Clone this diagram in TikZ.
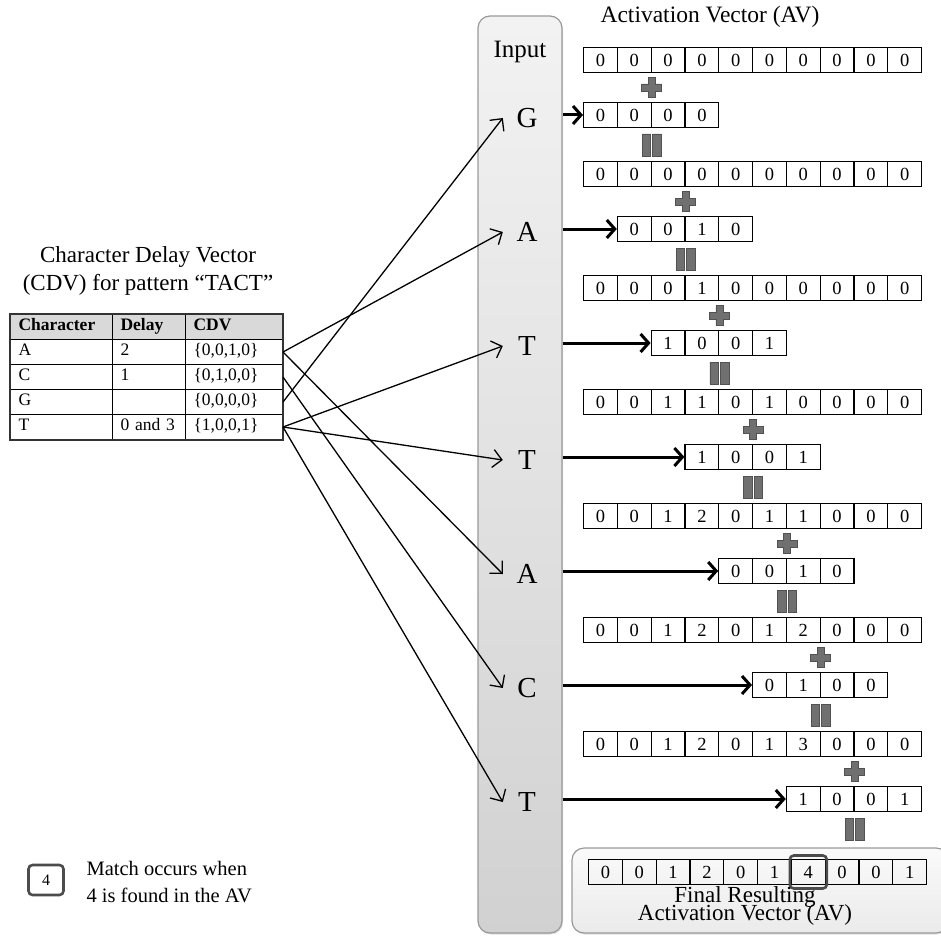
\documentclass[tikz,border=0pt]{standalone}
\usepackage{fontspec}
\setmainfont{Liberation Serif}
\usetikzlibrary{calc,arrows.meta,shadows}
\tikzset{
	cell/.style={draw, line width=1.2pt, anchor=west, minimum height=25pt, inner sep=0pt, font=\fontsize{18.5}{18.5}\selectfont},
	tcell/.style={draw, line width=1pt, anchor=north west, minimum height=25pt, inner xsep=8pt, inner ysep=0pt, align=left, font=\fontsize{17.5}{17.5}\selectfont},
	colA/.style={tcell, text width=86pt},
	colB/.style={tcell, text width=57pt},
	colC/.style={tcell, text width=81pt},
	thead/.style={fill=black!15},
	letter/.style={minimum width=48pt, inner sep=0pt, font=\fontsize{29}{29}\selectfont},
	link/.style={line width=1.3pt, -{Straight Barb[length=9pt,width=18pt]}},
	feed/.style={line width=3pt, -{Straight Barb[length=8pt,width=18pt]}},
	opmark/.style={fill=black!56, draw=black!68, line width=0.8pt},
	hilite/.style={draw=black!70, line width=2.6pt, rounded corners=4pt, minimum width=37pt, minimum height=33pt, inner sep=0pt},
}
\newcommand{\cells}[5][33.8]{\foreach \val [count=\i from 0] in {#5} {\node[cell, minimum width=#1] (#2-\i) at ({#3+\i*#1}, #4) {\val};}}
\newcommand{\plusmark}[1]{\filldraw[opmark, shift={($#1$)}] (-10,-3.5) -- (-3.5,-3.5) -- (-3.5,-10) -- (3.5,-10) -- (3.5,-3.5) -- (10,-3.5) -- (10,3.5) -- (3.5,3.5) -- (3.5,10) -- (-3.5,10) -- (-3.5,3.5) -- (-10,3.5) -- cycle;}
\newcommand{\equalmark}[1]{\filldraw[opmark, shift={($#1$)}] (-9.5,-11) rectangle (-1,11) (1,-11) rectangle (9.5,11);}
\newcommand{\tightlines}{\lineskiplimit=-30pt\relax}

\begin{document}
\begin{tikzpicture}[x=1pt, y=-1pt]
	\useasboundingbox (0,0) rectangle (941,936);
	%%%%% START %%%%%
	
	% input column and final box
	\node[draw=black!40, line width=1.2pt, rounded corners=12pt, top color=black!5, bottom color=black!18, minimum width=84pt, minimum height=917pt, drop shadow={opacity=0.25, shadow xshift=1pt, shadow yshift=-1.5pt}] (panel) at (520,474.5) {};
	\node[draw=black!40, line width=1.2pt, rounded corners=12pt, top color=black!2, bottom color=black!8, minimum width=376pt, minimum height=85pt, drop shadow={opacity=0.25, shadow xshift=1pt, shadow yshift=-1.5pt}] (finbox) at (760,890.5) {};
	
	\node[font=\fontsize{25}{25}\selectfont] (inlabel) at (520,52) {Input};
	\node[letter] (in1) at (527,118) {G};
	\node[letter] (in2) at (527,232) {A};
	\node[letter] (in3) at (527,346) {T};
	\node[letter] (in4) at (527,460) {T};
	\node[letter] (in5) at (527,574) {A};
	\node[letter] (in6) at (527,688) {C};
	\node[letter] (in7) at (527,802) {T};
	
	% CDV table
	\node[font=\fontsize{23}{28}\selectfont, align=center] (cdvtitle) at (148,271) {Character Delay Vector\\(CDV) for pattern “TACT”};
	
	\node[colA, thead] (hChar) at (10,314) {\strut\textbf{Character}};
	\node[colB, thead] (hDelay) at (112,314) {\strut\textbf{Delay}};
	\node[colC, thead] (hCdv) at (185,314) {\strut\textbf{CDV}};
	\node[colA] (chA) at (10,339) {\strut A};
	\node[colB] (dlA) at (112,339) {\strut 2};
	\node[colC] (cdvA) at (185,339) {\strut\{0,0,1,0\}};
	\node[colA] (chC) at (10,364) {\strut C};
	\node[colB] (dlC) at (112,364) {\strut 1};
	\node[colC] (cdvC) at (185,364) {\strut\{0,1,0,0\}};
	\node[colA] (chG) at (10,389) {\strut G};
	\node[colB] (dlG) at (112,389) {\strut};
	\node[colC] (cdvG) at (185,389) {\strut\{0,0,0,0\}};
	\node[colA] (chT) at (10,414) {\strut T};
	\node[colB] (dlT) at (112,414) {\strut 0 and 3};
	\node[colC] (cdvT) at (185,414) {\strut\{1,0,0,1\}};
	\draw[line width=2pt, black!80] (hChar.north west) rectangle (cdvT.south east);
	
	\draw[link] (cdvG.east) -- (in1.west);
	\draw[link] (cdvA.east) -- (in2.west);
	\draw[link] (cdvT.east) -- (in3.west);
	\draw[link] (cdvT.east) -- (in4.west);
	\draw[link] (cdvA.east) -- (in5.west);
	\draw[link] (cdvC.east) -- (in6.west);
	\draw[link] (cdvT.east) -- (in7.west);
	
	% activation vectors
	\node[font=\fontsize{23.5}{23.5}\selectfont] (avtitle) at (710,17) {Activation Vector (AV)};
	
	\cells{av0}{583}{60}{0,0,0,0,0,0,0,0,0,0}
	\cells{sv0}{583}{115}{0,0,0,0}
	\cells{av1}{583}{174}{0,0,0,0,0,0,0,0,0,0}
	\cells{sv1}{616.8}{229}{0,0,1,0}
	\cells{av2}{583}{288}{0,0,0,1,0,0,0,0,0,0}
	\cells{sv2}{650.6}{343}{1,0,0,1}
	\cells{av3}{583}{402}{0,0,1,1,0,1,0,0,0,0}
	\cells{sv3}{684.4}{457}{1,0,0,1}
	\cells{av4}{583}{516}{0,0,1,2,0,1,1,0,0,0}
	\cells{sv4}{718.2}{571}{0,0,1,0}
	\cells{av5}{583}{630}{0,0,1,2,0,1,2,0,0,0}
	\cells{sv5}{752}{685}{0,1,0,0}
	\cells{av6}{583}{744}{0,0,1,2,0,1,3,0,0,0}
	\cells{sv6}{785.8}{799}{1,0,0,1}
	\cells{fin}{588}{872}{0,0,1,2,0,1,4,0,0,1}
	
	\foreach \k in {0,...,6} {
		\draw[feed] (panel.east |- sv\k-0.west) -- (sv\k-0.west);
		\plusmark{(sv\k-1.east)+(0,-27.5)}
		\equalmark{(sv\k-1.east)+(0,30)}
	}
	
	\node[hilite] (match) at (fin-6) {};
	\node[font=\fontsize{23}{18}\selectfont\tightlines, align=center] (fintext) at (745,906) {Final Resulting\\Activation Vector (AV)};
	
	% legend
	\node[hilite, minimum width=35pt, minimum height=30pt, font=\fontsize{16}{16}\selectfont] (legbox) at (46,880) {4};
	\node[anchor=west, align=left, font=\fontsize{20.5}{27}\selectfont] (legtext) at (83,882) {Match occurs when\\4 is found in the AV};
	
	%%%%% END %%%%%
\end{tikzpicture}
\end{document}
